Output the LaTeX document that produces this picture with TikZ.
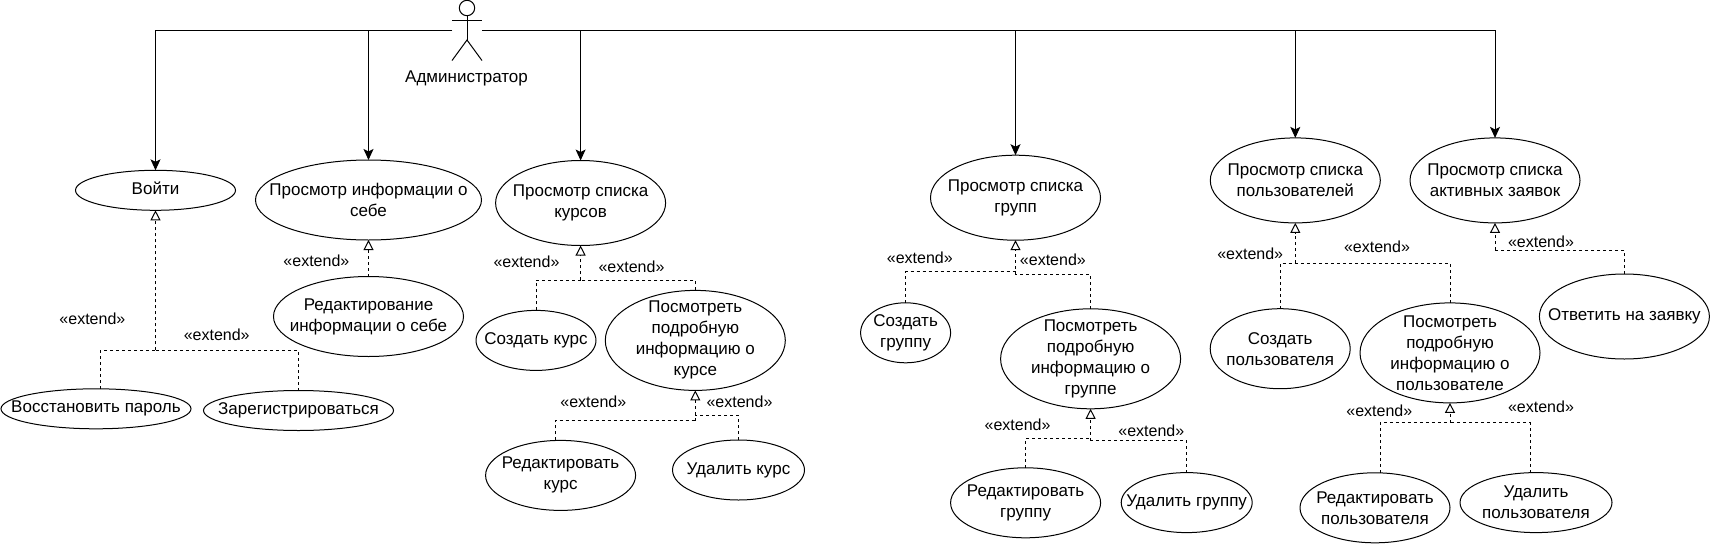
\documentclass[tikz,border=0pt]{standalone}
\usepackage{fontspec}
\setmainfont{Liberation Sans}
\usetikzlibrary{shapes.geometric, arrows.meta}

\begin{document}
\begin{tikzpicture}[x=1pt, y=-1pt, line width=1pt, every node/.style={font=\fontsize{17}{21}\selectfont}]
    \tikzstyle{usecase} = [ellipse, draw=black, fill=white, align=center, inner sep=-30pt, outer sep=0pt]
    \tikzstyle{extlabel} = [fill=none, inner sep=0pt, font=\fontsize{16}{21}\selectfont]
    \tikzstyle{flow} = [->, >={Stealth[length=11pt, width=10pt, inset=2.5pt]}]
    \tikzstyle{extline} = [dashed, dash pattern=on 3pt off 3pt]
    \tikzstyle{extarrow} = [extline, -{Triangle[open, fill=white, length=10pt, width=10pt]}]

    \useasboundingbox (0,0) rectangle (1711,544);

    % actor
    \node (admin) [minimum width=30pt, minimum height=60.5pt, inner sep=0pt, outer sep=0pt] at (467,30.3) {};
    \node (adminname) at (466.5,78) {Администратор};
    \draw (467,8) circle (7.7pt);
    \draw (467,15.7) -- (467,40);
    \draw (admin.west |- 0,20) -- (admin.east |- 0,20);
    \draw (admin.south west) -- (467,40) -- (admin.south east);

    % use cases
    \node (login) [usecase, minimum width=160pt, minimum height=40pt] at (155.5,190.3) {\raisebox{4pt}{Войти}};
    \node (restore) [usecase, minimum width=190pt, minimum height=40pt] at (96,408.8) {Восстановить пароль};
    \node (signup) [usecase, minimum width=190pt, minimum height=40pt] at (298.5,410.5) {Зарегистрироваться};
    \node (selfinfo) [usecase, minimum width=226pt, minimum height=80pt] at (368.5,200) {Просмотр информации о\\себе};
    \node (selfedit) [usecase, minimum width=190pt, minimum height=80pt] at (368.5,316.5) {Редактирование\\информации о себе};

    \node (courses) [usecase, minimum width=170pt, minimum height=85pt] at (580.6,203) {Просмотр списка\\курсов};
    \node (coursenew) [usecase, minimum width=120pt, minimum height=60pt] at (536,340.4) {Создать курс};
    \node (coursedetail) [usecase, minimum width=180pt, minimum height=100pt] at (695.3,340.4) {Посмотреть\\подробную\\информацию о\\курсе};
    \node (courseedit) [usecase, minimum width=150pt, minimum height=70pt] at (560.6,475.4) {Редактировать\\курс};
    \node (coursedel) [usecase, minimum width=132pt, minimum height=60pt] at (738.5,470) {Удалить курс};

    \node (groups) [usecase, minimum width=170pt, minimum height=85pt] at (1015.5,197.7) {Просмотр списка\\групп};
    \node (groupnew) [usecase, minimum width=90pt, minimum height=60pt] at (905.6,332.8) {Создать\\группу};
    \node (groupdetail) [usecase, minimum width=180pt, minimum height=100pt] at (1090.6,358.8) {Посмотреть\\подробную\\информацию о\\группе};
    \node (groupedit) [usecase, minimum width=150pt, minimum height=70pt] at (1025.6,502.8) {Редактировать\\группу};
    \node (groupdel) [usecase, minimum width=131pt, minimum height=60pt] at (1186.7,502.6) {Удалить группу};

    \node (users) [usecase, minimum width=170pt, minimum height=85pt] at (1295.3,180.4) {Просмотр списка\\пользователей};
    \node (usernew) [usecase, minimum width=140pt, minimum height=80pt] at (1280.2,348.7) {Создать\\пользователя};
    \node (userdetail) [usecase, minimum width=180pt, minimum height=100pt] at (1450,352.9) {Посмотреть\\подробную\\информацию о\\пользователе};
    \node (useredit) [usecase, minimum width=150pt, minimum height=70pt] at (1375,507.8) {Редактировать\\пользователя};
    \node (userdel) [usecase, minimum width=152pt, minimum height=60pt] at (1536,502.6) {Удалить\\пользователя};

    \node (requests) [usecase, minimum width=170pt, minimum height=85pt] at (1495,180.4) {Просмотр списка\\активных заявок};
    \node (reqanswer) [usecase, minimum width=170pt, minimum height=85pt] at (1624.4,316.5) {Ответить на заявку};

    % actor links
    \draw [flow] (admin.west) -| (login);
    \draw [flow] (admin.west) -| (selfinfo);
    \draw [flow] (admin.east) -| (courses);
    \draw [flow] (admin.east) -| (groups);
    \draw [flow] (admin.east) -| (users);
    \draw [flow] (admin.east) -| (requests);

    % extend links
    \coordinate (loginbus) at (155.5,350.4);
    \draw [extline] ([xshift=4.4pt]restore.north) |- (loginbus);
    \draw [extline] (signup.north) |- (loginbus);
    \draw [extarrow] (loginbus) -- (login);

    \draw [extarrow] (selfedit) -- (selfinfo);

    \coordinate (coursebus) at (580.6,280.4);
    \draw [extline] (coursenew.north) |- (coursebus);
    \draw [extline] (coursedetail.north) |- (coursebus);
    \draw [extarrow] (coursebus) -- (courses);

    \coordinate (detailbusa) at (695.3,420.5);
    \coordinate (detailbusb) at (695.3,415.3);
    \draw [extline] ([xshift=-5pt]courseedit.north) |- (detailbusa);
    \draw [extline] (coursedel.north) |- (detailbusb);
    \draw [extarrow] (detailbusa) -- (coursedetail);

    \coordinate (groupbusa) at (1015.5,271.7);
    \coordinate (groupbusb) at (1015.5,274.8);
    \draw [extline] (groupnew.north) |- (groupbusa);
    \draw [extline] (groupdetail.north) |- (groupbusb);
    \draw [extarrow] (groupbusb) -- (groups);

    \coordinate (gdetailbusa) at (1090.6,438.2);
    \coordinate (gdetailbusb) at (1090.6,440.7);
    \draw [extline] (groupedit.north) |- (gdetailbusa);
    \draw [extline] (groupdel.north) |- (gdetailbusb);
    \draw [extarrow] (gdetailbusb) -- (groupdetail);

    \coordinate (userbus) at (1295.3,263);
    \draw [extline] (usernew.north) |- (userbus);
    \draw [extline] (userdetail.north) |- (userbus);
    \draw [extarrow] (userbus) -- (users);

    \coordinate (udetailbus) at (1450,422.6);
    \draw [extline] ([xshift=5pt]useredit.north) |- (udetailbus);
    \draw [extline] ([xshift=-5.8pt]userdel.north) |- (udetailbus);
    \draw [extarrow] (udetailbus) -- (userdetail);

    \coordinate (reqbus) at (1495,250.2);
    \draw [extline] (reqanswer.north) |- (reqbus);
    \draw [extarrow] (reqbus) -- (requests);

    % extend labels
    \node (ext1) [extlabel] at (92.4,318.5) {«extend»};
    \node (ext2) [extlabel] at (216.7,334.8) {«extend»};
    \node (ext3) [extlabel] at (316.4,261) {«extend»};
    \node (ext4) [extlabel] at (526.5,262) {«extend»};
    \node (ext5) [extlabel] at (631.5,266.5) {«extend»};
    \node (ext6) [extlabel] at (593.3,401.8) {«extend»};
    \node (ext7) [extlabel] at (739.5,401.8) {«extend»};
    \node (ext8) [extlabel] at (919.8,257.8) {«extend»};
    \node (ext9) [extlabel] at (1052.9,259.5) {«extend»};
    \node (ext10) [extlabel] at (1017.6,424.7) {«extend»};
    \node (ext11) [extlabel] at (1151.3,430.6) {«extend»};
    \node (ext12) [extlabel] at (1250.2,253.6) {«extend»};
    \node (ext13) [extlabel] at (1377,246.7) {«extend»};
    \node (ext14) [extlabel, fill=white] at (1541,241.8) {«extend»};
    \node (ext15) [extlabel] at (1379.3,410.5) {«extend»};
    \node (ext16) [extlabel] at (1541,406.7) {«extend»};
\end{tikzpicture}
\end{document}
